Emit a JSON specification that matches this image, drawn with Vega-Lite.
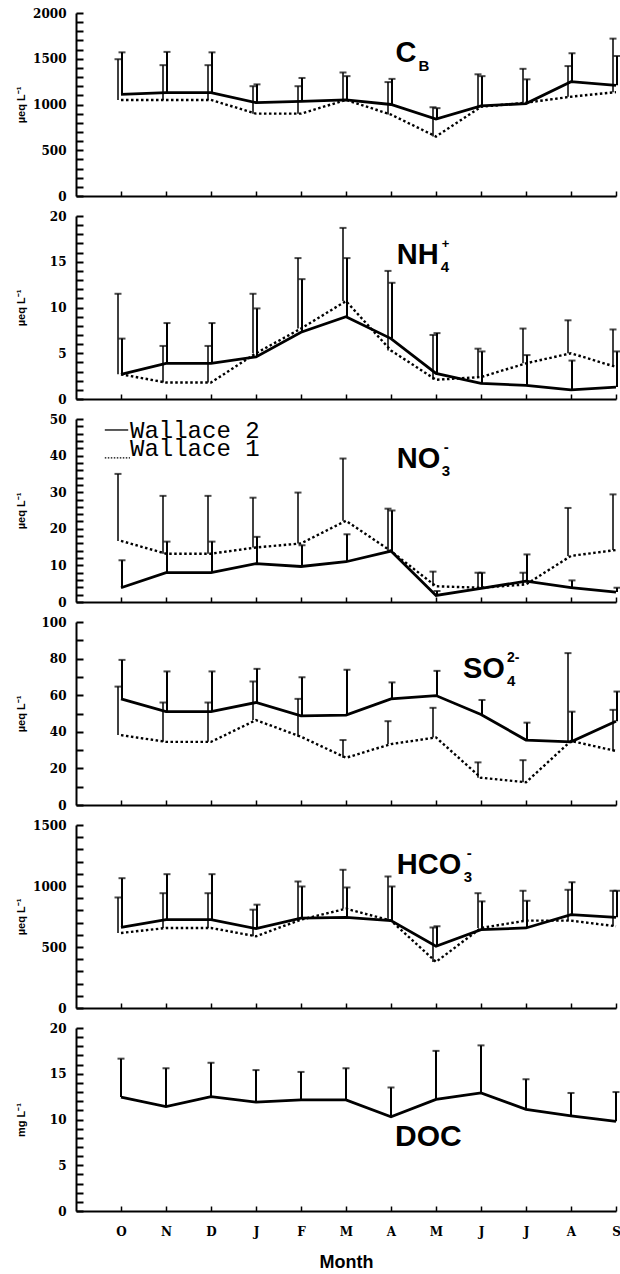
{
  "$schema": "https://vega.github.io/schema/vega-lite/v6.json",
  "padding": {"left": 15, "top": 7, "right": 0, "bottom": 0},
  "spacing": 8,
  "datasets": {
    "d": [
      {"panel":"CB","month":1,"site":"Wallace 2","mean":1110,"upper":1570},
      {"panel":"CB","month":2,"site":"Wallace 2","mean":1130,"upper":1575},
      {"panel":"CB","month":3,"site":"Wallace 2","mean":1130,"upper":1570},
      {"panel":"CB","month":4,"site":"Wallace 2","mean":1020,"upper":1220},
      {"panel":"CB","month":5,"site":"Wallace 2","mean":1035,"upper":1290},
      {"panel":"CB","month":6,"site":"Wallace 2","mean":1050,"upper":1310},
      {"panel":"CB","month":7,"site":"Wallace 2","mean":1000,"upper":1280},
      {"panel":"CB","month":8,"site":"Wallace 2","mean":840,"upper":960},
      {"panel":"CB","month":9,"site":"Wallace 2","mean":985,"upper":1310},
      {"panel":"CB","month":10,"site":"Wallace 2","mean":1010,"upper":1275},
      {"panel":"CB","month":11,"site":"Wallace 2","mean":1250,"upper":1560},
      {"panel":"CB","month":12,"site":"Wallace 2","mean":1210,"upper":1530},
      {"panel":"CB","month":1,"site":"Wallace 1","mean":1050,"upper":1495},
      {"panel":"CB","month":2,"site":"Wallace 1","mean":1050,"upper":1430},
      {"panel":"CB","month":3,"site":"Wallace 1","mean":1050,"upper":1430},
      {"panel":"CB","month":4,"site":"Wallace 1","mean":900,"upper":1200},
      {"panel":"CB","month":5,"site":"Wallace 1","mean":900,"upper":1200},
      {"panel":"CB","month":6,"site":"Wallace 1","mean":1050,"upper":1350},
      {"panel":"CB","month":7,"site":"Wallace 1","mean":890,"upper":1245},
      {"panel":"CB","month":8,"site":"Wallace 1","mean":650,"upper":970},
      {"panel":"CB","month":9,"site":"Wallace 1","mean":975,"upper":1330},
      {"panel":"CB","month":10,"site":"Wallace 1","mean":1020,"upper":1390},
      {"panel":"CB","month":11,"site":"Wallace 1","mean":1085,"upper":1420},
      {"panel":"CB","month":12,"site":"Wallace 1","mean":1135,"upper":1720},
      {"panel":"NH4","month":1,"site":"Wallace 2","mean":2.7,"upper":6.6},
      {"panel":"NH4","month":2,"site":"Wallace 2","mean":3.9,"upper":8.3},
      {"panel":"NH4","month":3,"site":"Wallace 2","mean":3.9,"upper":8.3},
      {"panel":"NH4","month":4,"site":"Wallace 2","mean":4.6,"upper":9.9},
      {"panel":"NH4","month":5,"site":"Wallace 2","mean":7.3,"upper":13.1},
      {"panel":"NH4","month":6,"site":"Wallace 2","mean":9.0,"upper":15.4},
      {"panel":"NH4","month":7,"site":"Wallace 2","mean":6.6,"upper":12.7},
      {"panel":"NH4","month":8,"site":"Wallace 2","mean":2.8,"upper":7.2},
      {"panel":"NH4","month":9,"site":"Wallace 2","mean":1.7,"upper":5.2},
      {"panel":"NH4","month":10,"site":"Wallace 2","mean":1.5,"upper":4.8},
      {"panel":"NH4","month":11,"site":"Wallace 2","mean":1.0,"upper":4.2},
      {"panel":"NH4","month":12,"site":"Wallace 2","mean":1.3,"upper":5.2},
      {"panel":"NH4","month":1,"site":"Wallace 1","mean":2.7,"upper":11.5},
      {"panel":"NH4","month":2,"site":"Wallace 1","mean":1.8,"upper":5.8},
      {"panel":"NH4","month":3,"site":"Wallace 1","mean":1.8,"upper":5.8},
      {"panel":"NH4","month":4,"site":"Wallace 1","mean":5.0,"upper":11.5},
      {"panel":"NH4","month":5,"site":"Wallace 1","mean":7.7,"upper":15.4},
      {"panel":"NH4","month":6,"site":"Wallace 1","mean":10.7,"upper":18.7},
      {"panel":"NH4","month":7,"site":"Wallace 1","mean":5.3,"upper":14.0},
      {"panel":"NH4","month":8,"site":"Wallace 1","mean":2.1,"upper":7.0},
      {"panel":"NH4","month":9,"site":"Wallace 1","mean":2.4,"upper":5.5},
      {"panel":"NH4","month":10,"site":"Wallace 1","mean":3.9,"upper":7.7},
      {"panel":"NH4","month":11,"site":"Wallace 1","mean":5.0,"upper":8.6},
      {"panel":"NH4","month":12,"site":"Wallace 1","mean":3.5,"upper":7.6},
      {"panel":"NO3","month":1,"site":"Wallace 2","mean":3.9,"upper":11.4},
      {"panel":"NO3","month":2,"site":"Wallace 2","mean":8.0,"upper":16.5},
      {"panel":"NO3","month":3,"site":"Wallace 2","mean":8.0,"upper":16.5},
      {"panel":"NO3","month":4,"site":"Wallace 2","mean":10.5,"upper":17.8},
      {"panel":"NO3","month":5,"site":"Wallace 2","mean":9.7,"upper":15.5},
      {"panel":"NO3","month":6,"site":"Wallace 2","mean":11.0,"upper":18.5},
      {"panel":"NO3","month":7,"site":"Wallace 2","mean":13.9,"upper":25.0},
      {"panel":"NO3","month":8,"site":"Wallace 2","mean":1.8,"upper":3.0},
      {"panel":"NO3","month":9,"site":"Wallace 2","mean":3.7,"upper":8.0},
      {"panel":"NO3","month":10,"site":"Wallace 2","mean":5.7,"upper":13.0},
      {"panel":"NO3","month":11,"site":"Wallace 2","mean":3.9,"upper":5.9},
      {"panel":"NO3","month":12,"site":"Wallace 2","mean":2.7,"upper":3.9},
      {"panel":"NO3","month":1,"site":"Wallace 1","mean":16.7,"upper":35.0},
      {"panel":"NO3","month":2,"site":"Wallace 1","mean":13.2,"upper":29.0},
      {"panel":"NO3","month":3,"site":"Wallace 1","mean":13.2,"upper":29.0},
      {"panel":"NO3","month":4,"site":"Wallace 1","mean":14.9,"upper":28.5},
      {"panel":"NO3","month":5,"site":"Wallace 1","mean":16.0,"upper":29.9},
      {"panel":"NO3","month":6,"site":"Wallace 1","mean":22.2,"upper":39.2},
      {"panel":"NO3","month":7,"site":"Wallace 1","mean":13.9,"upper":25.5},
      {"panel":"NO3","month":8,"site":"Wallace 1","mean":4.3,"upper":8.3},
      {"panel":"NO3","month":9,"site":"Wallace 1","mean":3.9,"upper":8.0},
      {"panel":"NO3","month":10,"site":"Wallace 1","mean":4.8,"upper":8.0},
      {"panel":"NO3","month":11,"site":"Wallace 1","mean":12.6,"upper":25.7},
      {"panel":"NO3","month":12,"site":"Wallace 1","mean":14.2,"upper":29.4},
      {"panel":"SO4","month":1,"site":"Wallace 2","mean":58,"upper":79.3},
      {"panel":"SO4","month":2,"site":"Wallace 2","mean":51,"upper":73},
      {"panel":"SO4","month":3,"site":"Wallace 2","mean":51,"upper":73},
      {"panel":"SO4","month":4,"site":"Wallace 2","mean":56,"upper":74.4},
      {"panel":"SO4","month":5,"site":"Wallace 2","mean":48.7,"upper":69.8},
      {"panel":"SO4","month":6,"site":"Wallace 2","mean":49.1,"upper":73.9},
      {"panel":"SO4","month":7,"site":"Wallace 2","mean":58,"upper":67},
      {"panel":"SO4","month":8,"site":"Wallace 2","mean":59.8,"upper":73.3},
      {"panel":"SO4","month":9,"site":"Wallace 2","mean":49.5,"upper":57.4},
      {"panel":"SO4","month":10,"site":"Wallace 2","mean":35.5,"upper":45},
      {"panel":"SO4","month":11,"site":"Wallace 2","mean":34.5,"upper":51},
      {"panel":"SO4","month":12,"site":"Wallace 2","mean":45.8,"upper":62},
      {"panel":"SO4","month":1,"site":"Wallace 1","mean":38.2,"upper":64.7},
      {"panel":"SO4","month":2,"site":"Wallace 1","mean":34.5,"upper":56},
      {"panel":"SO4","month":3,"site":"Wallace 1","mean":34.5,"upper":56},
      {"panel":"SO4","month":4,"site":"Wallace 1","mean":46.4,"upper":67.5},
      {"panel":"SO4","month":5,"site":"Wallace 1","mean":37.3,"upper":58},
      {"panel":"SO4","month":6,"site":"Wallace 1","mean":25.8,"upper":35.5},
      {"panel":"SO4","month":7,"site":"Wallace 1","mean":33.3,"upper":45.8},
      {"panel":"SO4","month":8,"site":"Wallace 1","mean":36.9,"upper":53.1},
      {"panel":"SO4","month":9,"site":"Wallace 1","mean":14.9,"upper":23.3},
      {"panel":"SO4","month":10,"site":"Wallace 1","mean":12.4,"upper":24.5},
      {"panel":"SO4","month":11,"site":"Wallace 1","mean":35,"upper":83},
      {"panel":"SO4","month":12,"site":"Wallace 1","mean":29.5,"upper":52},
      {"panel":"HCO3","month":1,"site":"Wallace 2","mean":661,"upper":1064},
      {"panel":"HCO3","month":2,"site":"Wallace 2","mean":724,"upper":1097},
      {"panel":"HCO3","month":3,"site":"Wallace 2","mean":724,"upper":1097},
      {"panel":"HCO3","month":4,"site":"Wallace 2","mean":651,"upper":847},
      {"panel":"HCO3","month":5,"site":"Wallace 2","mean":737,"upper":996},
      {"panel":"HCO3","month":6,"site":"Wallace 2","mean":743,"upper":988},
      {"panel":"HCO3","month":7,"site":"Wallace 2","mean":716,"upper":996},
      {"panel":"HCO3","month":8,"site":"Wallace 2","mean":506,"upper":670},
      {"panel":"HCO3","month":9,"site":"Wallace 2","mean":642,"upper":874},
      {"panel":"HCO3","month":10,"site":"Wallace 2","mean":656,"upper":879},
      {"panel":"HCO3","month":11,"site":"Wallace 2","mean":765,"upper":1031},
      {"panel":"HCO3","month":12,"site":"Wallace 2","mean":743,"upper":961},
      {"panel":"HCO3","month":1,"site":"Wallace 1","mean":615,"upper":906},
      {"panel":"HCO3","month":2,"site":"Wallace 1","mean":656,"upper":941},
      {"panel":"HCO3","month":3,"site":"Wallace 1","mean":656,"upper":941},
      {"panel":"HCO3","month":4,"site":"Wallace 1","mean":588,"upper":806},
      {"panel":"HCO3","month":5,"site":"Wallace 1","mean":724,"upper":1037},
      {"panel":"HCO3","month":6,"site":"Wallace 1","mean":814,"upper":1133},
      {"panel":"HCO3","month":7,"site":"Wallace 1","mean":716,"upper":1078},
      {"panel":"HCO3","month":8,"site":"Wallace 1","mean":378,"upper":660},
      {"panel":"HCO3","month":9,"site":"Wallace 1","mean":656,"upper":941},
      {"panel":"HCO3","month":10,"site":"Wallace 1","mean":716,"upper":961},
      {"panel":"HCO3","month":11,"site":"Wallace 1","mean":716,"upper":969},
      {"panel":"HCO3","month":12,"site":"Wallace 1","mean":670,"upper":961},
      {"panel":"DOC","month":1,"site":"Wallace 2","mean":12.45,"upper":16.65},
      {"panel":"DOC","month":2,"site":"Wallace 2","mean":11.4,"upper":15.6},
      {"panel":"DOC","month":3,"site":"Wallace 2","mean":12.5,"upper":16.2},
      {"panel":"DOC","month":4,"site":"Wallace 2","mean":11.9,"upper":15.4},
      {"panel":"DOC","month":5,"site":"Wallace 2","mean":12.15,"upper":15.2},
      {"panel":"DOC","month":6,"site":"Wallace 2","mean":12.15,"upper":15.6},
      {"panel":"DOC","month":7,"site":"Wallace 2","mean":10.3,"upper":13.5},
      {"panel":"DOC","month":8,"site":"Wallace 2","mean":12.2,"upper":17.5},
      {"panel":"DOC","month":9,"site":"Wallace 2","mean":12.9,"upper":18.1},
      {"panel":"DOC","month":10,"site":"Wallace 2","mean":11.1,"upper":14.4},
      {"panel":"DOC","month":11,"site":"Wallace 2","mean":10.4,"upper":12.9},
      {"panel":"DOC","month":12,"site":"Wallace 2","mean":9.8,"upper":13.0}
    ]
  },
  "vconcat": [
    {
      "width": 540, "height": 183,
      "resolve": {"axis": {"x": "independent", "y": "independent"}},
      "layer": [
        {
          "data": {"name": "d"},
          "encoding": {
            "x": {"field": "month", "type": "quantitative", "scale": {"domain": [0, 12], "nice": false, "zero": false}, "axis": {"values": [1,2,3,4,5,6,7,8,9,10,11,12], "labels": false, "title": null, "tickSize": -5}},
            "y": {"field": "mean", "type": "quantitative", "scale": {"domain": [0, 2000], "nice": false}, "axis": {"title": "µeq L⁻¹", "ticks": true, "tickSize": -7, "tickWidth": 2, "tickColor": "black", "values": [0,100,200,300,400,500,600,700,800,900,1000,1100,1200,1300,1400,1500,1600,1700,1800,1900,2000], "labelExpr": "datum.value % 500 === 0 ? datum.label : ''"}}
          },
          "layer": [
            {"transform": [{"filter": "datum.panel === 'CB' && datum.site === 'Wallace 1'"}], "mark": {"type": "rule", "color": "black", "strokeWidth": 1.5, "xOffset": -3}, "encoding": {"y2": {"field": "upper"}}},
            {"transform": [{"filter": "datum.panel === 'CB' && datum.site === 'Wallace 1'"}], "mark": {"type": "tick", "orient": "horizontal", "color": "black", "size": 7, "thickness": 2, "xOffset": -3}, "encoding": {"y": {"field": "upper", "type": "quantitative"}}},
            {"transform": [{"filter": "datum.panel === 'CB' && datum.site === 'Wallace 2'"}], "mark": {"type": "rule", "color": "black", "strokeWidth": 2, "xOffset": 1}, "encoding": {"y2": {"field": "upper"}}},
            {"transform": [{"filter": "datum.panel === 'CB' && datum.site === 'Wallace 2'"}], "mark": {"type": "tick", "orient": "horizontal", "color": "black", "size": 7, "thickness": 2, "xOffset": 1}, "encoding": {"y": {"field": "upper", "type": "quantitative"}}},
            {"transform": [{"filter": "datum.panel === 'CB' && datum.site === 'Wallace 1'"}], "mark": {"type": "line", "color": "black", "strokeWidth": 2.4, "strokeDash": [2.5, 2.5]}},
            {"transform": [{"filter": "datum.panel === 'CB' && datum.site === 'Wallace 2'"}], "mark": {"type": "line", "color": "black", "strokeWidth": 2.8}}
          ]
        },
        {"data": {"values": [{"k": 1}]}, "mark": {"type": "text", "text": "C", "font": "Liberation Sans", "fontWeight": "bold", "fontSize": 29, "align": "left", "baseline": "alphabetic", "color": "black"}, "encoding": {"x": {"datum": 7.1, "axis": null}, "y": {"datum": 1460, "axis": null}}},
        {"data": {"values": [{"k": 1}]}, "mark": {"type": "text", "text": "B", "font": "Liberation Sans", "fontWeight": "bold", "fontSize": 15, "align": "left", "baseline": "alphabetic", "dx": 23, "dy": 9, "color": "black"}, "encoding": {"x": {"datum": 7.1, "axis": null}, "y": {"datum": 1460, "axis": null}}}
      ]
    },
    {
      "width": 540, "height": 183,
      "resolve": {"axis": {"x": "independent", "y": "independent"}},
      "layer": [
        {
          "data": {"name": "d"},
          "encoding": {
            "x": {"field": "month", "type": "quantitative", "scale": {"domain": [0, 12], "nice": false, "zero": false}, "axis": {"values": [1,2,3,4,5,6,7,8,9,10,11,12], "labels": false, "title": null, "tickSize": -5}},
            "y": {"field": "mean", "type": "quantitative", "scale": {"domain": [0, 20], "nice": false}, "axis": {"title": "µeq L⁻¹", "ticks": true, "tickSize": -7, "tickWidth": 2, "tickColor": "black", "values": [0,1,2,3,4,5,6,7,8,9,10,11,12,13,14,15,16,17,18,19,20], "labelExpr": "datum.value % 5 === 0 ? datum.label : ''"}}
          },
          "layer": [
            {"transform": [{"filter": "datum.panel === 'NH4' && datum.site === 'Wallace 1'"}], "mark": {"type": "rule", "color": "black", "strokeWidth": 1.5, "xOffset": -3}, "encoding": {"y2": {"field": "upper"}}},
            {"transform": [{"filter": "datum.panel === 'NH4' && datum.site === 'Wallace 1'"}], "mark": {"type": "tick", "orient": "horizontal", "color": "black", "size": 7, "thickness": 2, "xOffset": -3}, "encoding": {"y": {"field": "upper", "type": "quantitative"}}},
            {"transform": [{"filter": "datum.panel === 'NH4' && datum.site === 'Wallace 2'"}], "mark": {"type": "rule", "color": "black", "strokeWidth": 2, "xOffset": 1}, "encoding": {"y2": {"field": "upper"}}},
            {"transform": [{"filter": "datum.panel === 'NH4' && datum.site === 'Wallace 2'"}], "mark": {"type": "tick", "orient": "horizontal", "color": "black", "size": 7, "thickness": 2, "xOffset": 1}, "encoding": {"y": {"field": "upper", "type": "quantitative"}}},
            {"transform": [{"filter": "datum.panel === 'NH4' && datum.site === 'Wallace 1'"}], "mark": {"type": "line", "color": "black", "strokeWidth": 2.4, "strokeDash": [2.5, 2.5]}},
            {"transform": [{"filter": "datum.panel === 'NH4' && datum.site === 'Wallace 2'"}], "mark": {"type": "line", "color": "black", "strokeWidth": 2.8}}
          ]
        },
        {"data": {"values": [{"k": 1}]}, "mark": {"type": "text", "text": "NH", "font": "Liberation Sans", "fontWeight": "bold", "fontSize": 29, "align": "left", "baseline": "alphabetic", "color": "black"}, "encoding": {"x": {"datum": 7.13, "axis": null}, "y": {"datum": 14.7, "axis": null}}},
        {"data": {"values": [{"k": 1}]}, "mark": {"type": "text", "text": "4", "font": "Liberation Sans", "fontWeight": "bold", "fontSize": 15, "align": "left", "baseline": "alphabetic", "dx": 44, "dy": 8, "color": "black"}, "encoding": {"x": {"datum": 7.13, "axis": null}, "y": {"datum": 14.7, "axis": null}}},
        {"data": {"values": [{"k": 1}]}, "mark": {"type": "text", "text": "+", "font": "Liberation Sans", "fontWeight": "bold", "fontSize": 13, "align": "left", "baseline": "alphabetic", "dx": 45, "dy": -16, "color": "black"}, "encoding": {"x": {"datum": 7.13, "axis": null}, "y": {"datum": 14.7, "axis": null}}}
      ]
    },
    {
      "width": 540, "height": 183,
      "resolve": {"axis": {"x": "independent", "y": "independent"}},
      "layer": [
        {
          "data": {"name": "d"},
          "encoding": {
            "x": {"field": "month", "type": "quantitative", "scale": {"domain": [0, 12], "nice": false, "zero": false}, "axis": {"values": [1,2,3,4,5,6,7,8,9,10,11,12], "labels": false, "title": null, "tickSize": -5}},
            "y": {"field": "mean", "type": "quantitative", "scale": {"domain": [0, 50], "nice": false}, "axis": {"title": "µeq L⁻¹", "ticks": true, "tickSize": -7, "tickWidth": 2, "tickColor": "black", "values": [0,2,4,6,8,10,12,14,16,18,20,22,24,26,28,30,32,34,36,38,40,42,44,46,48,50], "labelExpr": "datum.value % 10 === 0 ? datum.label : ''"}}
          },
          "layer": [
            {"transform": [{"filter": "datum.panel === 'NO3' && datum.site === 'Wallace 1'"}], "mark": {"type": "rule", "color": "black", "strokeWidth": 1.5, "xOffset": -3}, "encoding": {"y2": {"field": "upper"}}},
            {"transform": [{"filter": "datum.panel === 'NO3' && datum.site === 'Wallace 1'"}], "mark": {"type": "tick", "orient": "horizontal", "color": "black", "size": 7, "thickness": 2, "xOffset": -3}, "encoding": {"y": {"field": "upper", "type": "quantitative"}}},
            {"transform": [{"filter": "datum.panel === 'NO3' && datum.site === 'Wallace 2'"}], "mark": {"type": "rule", "color": "black", "strokeWidth": 2, "xOffset": 1}, "encoding": {"y2": {"field": "upper"}}},
            {"transform": [{"filter": "datum.panel === 'NO3' && datum.site === 'Wallace 2'"}], "mark": {"type": "tick", "orient": "horizontal", "color": "black", "size": 7, "thickness": 2, "xOffset": 1}, "encoding": {"y": {"field": "upper", "type": "quantitative"}}},
            {"transform": [{"filter": "datum.panel === 'NO3' && datum.site === 'Wallace 1'"}], "mark": {"type": "line", "color": "black", "strokeWidth": 2.4, "strokeDash": [2.5, 2.5]}},
            {"transform": [{"filter": "datum.panel === 'NO3' && datum.site === 'Wallace 2'"}], "mark": {"type": "line", "color": "black", "strokeWidth": 2.8}}
          ]
        },
        {"data": {"values": [{"k": 1}]}, "mark": {"type": "text", "text": "NO", "font": "Liberation Sans", "fontWeight": "bold", "fontSize": 29, "align": "left", "baseline": "alphabetic", "color": "black"}, "encoding": {"x": {"datum": 7.13, "axis": null}, "y": {"datum": 36.7, "axis": null}}},
        {"data": {"values": [{"k": 1}]}, "mark": {"type": "text", "text": "3", "font": "Liberation Sans", "fontWeight": "bold", "fontSize": 15, "align": "left", "baseline": "alphabetic", "dx": 45, "dy": 8, "color": "black"}, "encoding": {"x": {"datum": 7.13, "axis": null}, "y": {"datum": 36.7, "axis": null}}},
        {"data": {"values": [{"k": 1}]}, "mark": {"type": "text", "text": "-", "font": "Liberation Sans", "fontWeight": "bold", "fontSize": 15, "align": "left", "baseline": "alphabetic", "dx": 47, "dy": -16, "color": "black"}, "encoding": {"x": {"datum": 7.13, "axis": null}, "y": {"datum": 36.7, "axis": null}}},
        {"data": {"values": [{"k": 1}]}, "mark": {"type": "rule", "color": "black", "strokeWidth": 1.3}, "encoding": {"x": {"datum": 0.64, "axis": null}, "x2": {"datum": 1.16}, "y": {"datum": 47, "axis": null}}},
        {"data": {"values": [{"k": 1}]}, "mark": {"type": "rule", "color": "black", "strokeWidth": 1.3, "strokeDash": [1.5, 1.5]}, "encoding": {"x": {"datum": 0.64, "axis": null}, "x2": {"datum": 1.2}, "y": {"datum": 39.4, "axis": null}}},
        {"data": {"values": [{"k": 1}]}, "mark": {"type": "text", "text": "Wallace 2", "font": "Liberation Mono", "fontSize": 24, "align": "left", "baseline": "alphabetic", "color": "black"}, "encoding": {"x": {"datum": 1.2, "axis": null}, "y": {"datum": 44.7, "axis": null}}},
        {"data": {"values": [{"k": 1}]}, "mark": {"type": "text", "text": "Wallace 1", "font": "Liberation Mono", "fontSize": 24, "align": "left", "baseline": "alphabetic", "color": "black"}, "encoding": {"x": {"datum": 1.2, "axis": null}, "y": {"datum": 39.8, "axis": null}}}
      ]
    },
    {
      "width": 540, "height": 183,
      "resolve": {"axis": {"x": "independent", "y": "independent"}},
      "layer": [
        {
          "data": {"name": "d"},
          "encoding": {
            "x": {"field": "month", "type": "quantitative", "scale": {"domain": [0, 12], "nice": false, "zero": false}, "axis": {"values": [1,2,3,4,5,6,7,8,9,10,11,12], "labels": false, "title": null, "tickSize": -5}},
            "y": {"field": "mean", "type": "quantitative", "scale": {"domain": [0, 100], "nice": false}, "axis": {"title": "µeq L⁻¹", "ticks": true, "tickSize": -7, "tickWidth": 2, "tickColor": "black", "values": [0,10,20,30,40,50,60,70,80,90,100], "labelExpr": "datum.value % 20 === 0 ? datum.label : ''"}}
          },
          "layer": [
            {"transform": [{"filter": "datum.panel === 'SO4' && datum.site === 'Wallace 1'"}], "mark": {"type": "rule", "color": "black", "strokeWidth": 1.5, "xOffset": -3}, "encoding": {"y2": {"field": "upper"}}},
            {"transform": [{"filter": "datum.panel === 'SO4' && datum.site === 'Wallace 1'"}], "mark": {"type": "tick", "orient": "horizontal", "color": "black", "size": 7, "thickness": 2, "xOffset": -3}, "encoding": {"y": {"field": "upper", "type": "quantitative"}}},
            {"transform": [{"filter": "datum.panel === 'SO4' && datum.site === 'Wallace 2'"}], "mark": {"type": "rule", "color": "black", "strokeWidth": 2, "xOffset": 1}, "encoding": {"y2": {"field": "upper"}}},
            {"transform": [{"filter": "datum.panel === 'SO4' && datum.site === 'Wallace 2'"}], "mark": {"type": "tick", "orient": "horizontal", "color": "black", "size": 7, "thickness": 2, "xOffset": 1}, "encoding": {"y": {"field": "upper", "type": "quantitative"}}},
            {"transform": [{"filter": "datum.panel === 'SO4' && datum.site === 'Wallace 1'"}], "mark": {"type": "line", "color": "black", "strokeWidth": 2.4, "strokeDash": [2.5, 2.5]}},
            {"transform": [{"filter": "datum.panel === 'SO4' && datum.site === 'Wallace 2'"}], "mark": {"type": "line", "color": "black", "strokeWidth": 2.8}}
          ]
        },
        {"data": {"values": [{"k": 1}]}, "mark": {"type": "text", "text": "SO", "font": "Liberation Sans", "fontWeight": "bold", "fontSize": 29, "align": "left", "baseline": "alphabetic", "color": "black"}, "encoding": {"x": {"datum": 8.6, "axis": null}, "y": {"datum": 69.2, "axis": null}}},
        {"data": {"values": [{"k": 1}]}, "mark": {"type": "text", "text": "4", "font": "Liberation Sans", "fontWeight": "bold", "fontSize": 15, "align": "left", "baseline": "alphabetic", "dx": 44, "dy": 8, "color": "black"}, "encoding": {"x": {"datum": 8.6, "axis": null}, "y": {"datum": 69.2, "axis": null}}},
        {"data": {"values": [{"k": 1}]}, "mark": {"type": "text", "text": "2-", "font": "Liberation Sans", "fontWeight": "bold", "fontSize": 14, "align": "left", "baseline": "alphabetic", "dx": 44, "dy": -16, "color": "black"}, "encoding": {"x": {"datum": 8.6, "axis": null}, "y": {"datum": 69.2, "axis": null}}}
      ]
    },
    {
      "width": 540, "height": 183,
      "resolve": {"axis": {"x": "independent", "y": "independent"}},
      "layer": [
        {
          "data": {"name": "d"},
          "encoding": {
            "x": {"field": "month", "type": "quantitative", "scale": {"domain": [0, 12], "nice": false, "zero": false}, "axis": {"values": [1,2,3,4,5,6,7,8,9,10,11,12], "labels": false, "title": null, "tickSize": -5}},
            "y": {"field": "mean", "type": "quantitative", "scale": {"domain": [0, 1500], "nice": false}, "axis": {"title": "µeq L⁻¹", "ticks": true, "tickSize": -7, "tickWidth": 2, "tickColor": "black", "values": [0,100,200,300,400,500,600,700,800,900,1000,1100,1200,1300,1400,1500], "labelExpr": "datum.value % 500 === 0 ? datum.label : ''"}}
          },
          "layer": [
            {"transform": [{"filter": "datum.panel === 'HCO3' && datum.site === 'Wallace 1'"}], "mark": {"type": "rule", "color": "black", "strokeWidth": 1.5, "xOffset": -3}, "encoding": {"y2": {"field": "upper"}}},
            {"transform": [{"filter": "datum.panel === 'HCO3' && datum.site === 'Wallace 1'"}], "mark": {"type": "tick", "orient": "horizontal", "color": "black", "size": 7, "thickness": 2, "xOffset": -3}, "encoding": {"y": {"field": "upper", "type": "quantitative"}}},
            {"transform": [{"filter": "datum.panel === 'HCO3' && datum.site === 'Wallace 2'"}], "mark": {"type": "rule", "color": "black", "strokeWidth": 2, "xOffset": 1}, "encoding": {"y2": {"field": "upper"}}},
            {"transform": [{"filter": "datum.panel === 'HCO3' && datum.site === 'Wallace 2'"}], "mark": {"type": "tick", "orient": "horizontal", "color": "black", "size": 7, "thickness": 2, "xOffset": 1}, "encoding": {"y": {"field": "upper", "type": "quantitative"}}},
            {"transform": [{"filter": "datum.panel === 'HCO3' && datum.site === 'Wallace 1'"}], "mark": {"type": "line", "color": "black", "strokeWidth": 2.4, "strokeDash": [2.5, 2.5]}},
            {"transform": [{"filter": "datum.panel === 'HCO3' && datum.site === 'Wallace 2'"}], "mark": {"type": "line", "color": "black", "strokeWidth": 2.8}}
          ]
        },
        {"data": {"values": [{"k": 1}]}, "mark": {"type": "text", "text": "HCO", "font": "Liberation Sans", "fontWeight": "bold", "fontSize": 29, "align": "left", "baseline": "alphabetic", "color": "black"}, "encoding": {"x": {"datum": 7.13, "axis": null}, "y": {"datum": 1095, "axis": null}}},
        {"data": {"values": [{"k": 1}]}, "mark": {"type": "text", "text": "3", "font": "Liberation Sans", "fontWeight": "bold", "fontSize": 15, "align": "left", "baseline": "alphabetic", "dx": 67, "dy": 8, "color": "black"}, "encoding": {"x": {"datum": 7.13, "axis": null}, "y": {"datum": 1095, "axis": null}}},
        {"data": {"values": [{"k": 1}]}, "mark": {"type": "text", "text": "-", "font": "Liberation Sans", "fontWeight": "bold", "fontSize": 15, "align": "left", "baseline": "alphabetic", "dx": 70, "dy": -16, "color": "black"}, "encoding": {"x": {"datum": 7.13, "axis": null}, "y": {"datum": 1095, "axis": null}}}
      ]
    },
    {
      "width": 540, "height": 183,
      "resolve": {"axis": {"x": "independent", "y": "independent"}},
      "layer": [
        {
          "data": {"name": "d"},
          "encoding": {
            "x": {"field": "month", "type": "quantitative", "scale": {"domain": [0, 12], "nice": false, "zero": false}, "axis": {"values": [1,2,3,4,5,6,7,8,9,10,11,12], "labels": true, "labelExpr": "['','O','N','D','J','F','M','A','M','J','J','A','S'][datum.value]", "labelPadding": 20, "title": "Month", "titleFontSize": 18, "titlePadding": 16, "tickSize": -5}},
            "y": {"field": "mean", "type": "quantitative", "scale": {"domain": [0, 20], "nice": false}, "axis": {"title": "mg L⁻¹", "ticks": true, "tickSize": -7, "tickWidth": 2, "tickColor": "black", "values": [0,1,2,3,4,5,6,7,8,9,10,11,12,13,14,15,16,17,18,19,20], "labelExpr": "datum.value % 5 === 0 ? datum.label : ''"}}
          },
          "layer": [
            {"transform": [{"filter": "datum.panel === 'DOC'"}], "mark": {"type": "rule", "color": "black", "strokeWidth": 2}, "encoding": {"y2": {"field": "upper"}}},
            {"transform": [{"filter": "datum.panel === 'DOC'"}], "mark": {"type": "tick", "orient": "horizontal", "color": "black", "size": 7, "thickness": 2}, "encoding": {"y": {"field": "upper", "type": "quantitative"}}},
            {"transform": [{"filter": "datum.panel === 'DOC'"}], "mark": {"type": "line", "color": "black", "strokeWidth": 2.8}}
          ]
        },
        {"data": {"values": [{"k": 1}]}, "mark": {"type": "text", "text": "DOC", "font": "Liberation Sans", "fontWeight": "bold", "fontSize": 30, "align": "left", "baseline": "alphabetic", "color": "black"}, "encoding": {"x": {"datum": 7.09, "axis": null}, "y": {"datum": 7.1, "axis": null}}}
      ]
    }
  ],
  "config": {
    "view": {"stroke": null},
    "font": "Liberation Sans",
    "axis": {"domainColor": "black", "domainWidth": 2, "tickColor": "black", "tickWidth": 1.5, "grid": false, "labelFont": "DejaVu Serif", "labelFontWeight": "bold", "labelFontSize": 12, "labelColor": "black", "titleFont": "Liberation Sans", "titleFontWeight": "bold", "titleColor": "black", "labelOverlap": false, "labelFlush": false},
    "axisY": {"labelPadding": 17, "titleX": -55, "titleAngle": 270, "titleBaseline": "middle", "titleAlign": "center", "titleFontSize": 11, "format": "d"}
  }
}
